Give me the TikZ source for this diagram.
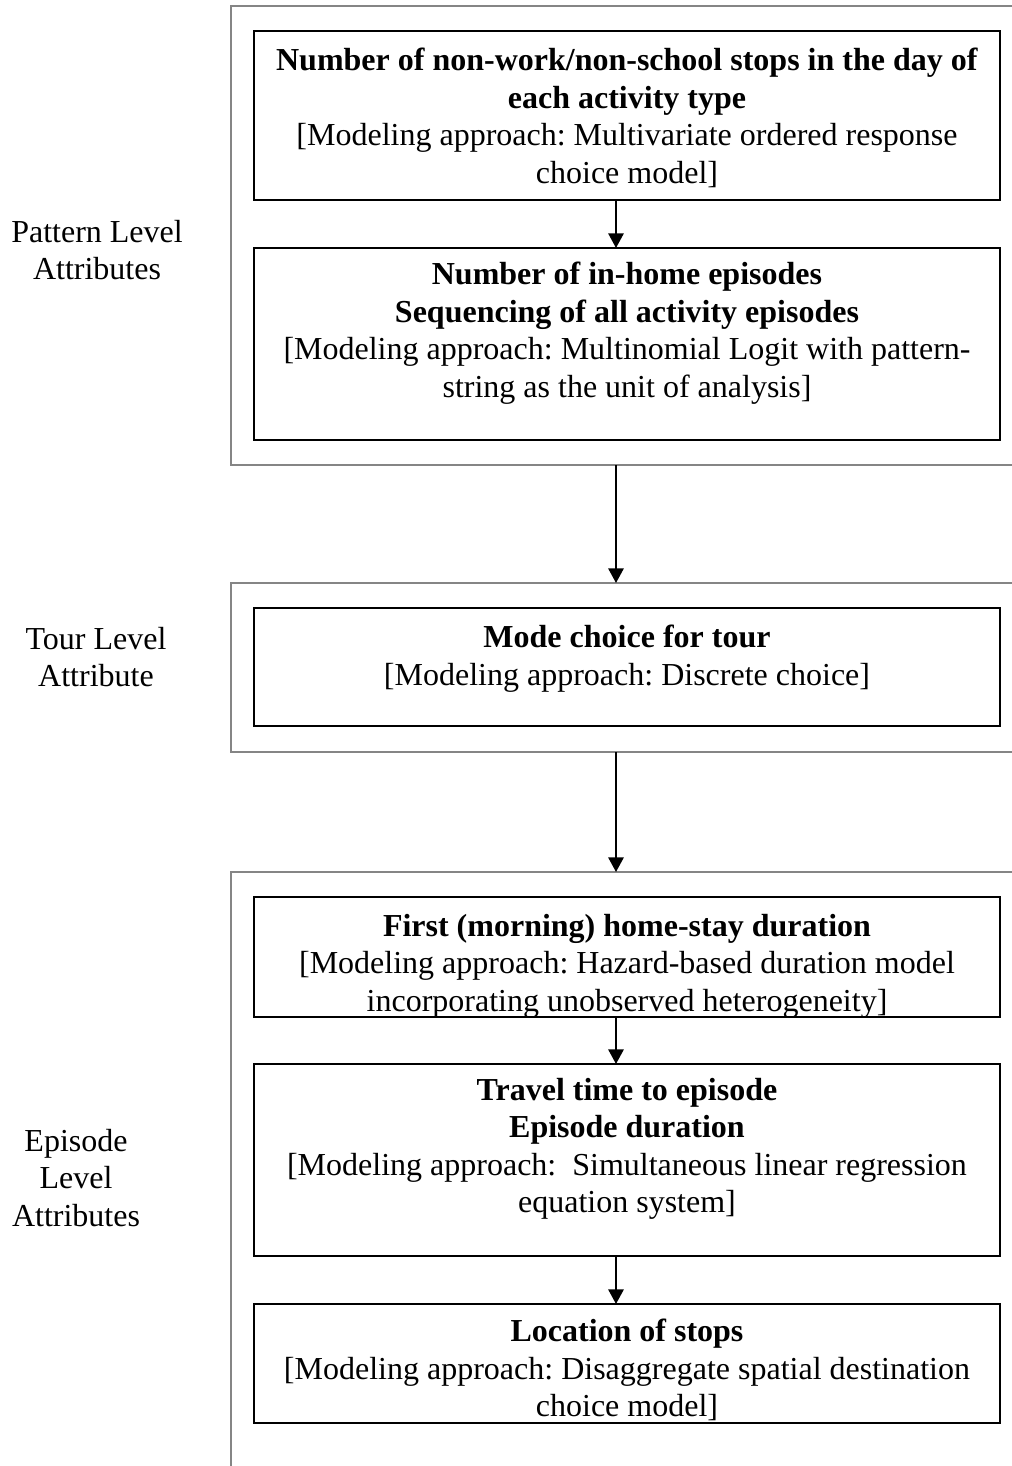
\documentclass[tikz,border=0pt]{standalone}
\usepackage{fontspec}
\setmainfont{Liberation Serif}
\usetikzlibrary{arrows.meta}
\frenchspacing
\begin{document}
\begin{tikzpicture}[x=0.75pt,y=-0.75pt,
  grp/.style={draw=black!48, line width=1.5pt, inner sep=0pt, outer sep=0pt, anchor=north west},
  box/.style={draw=black, line width=1.6pt, inner sep=0pt, outer sep=0pt, anchor=north west, minimum width=746*0.75pt},
  txt/.style={align=center, inner sep=0pt, anchor=north, font=\fontsize{24pt}{28.1pt}\selectfont},
  lbl/.style={align=center, inner sep=0pt, font=\fontsize{24pt}{28.1pt}\selectfont},
  arr/.style={line width=1.5pt, -{Triangle[width=11.5pt,length=11pt]}}]
\useasboundingbox (0,0) rectangle (1012,1466);
\clip (0,0) rectangle (1012,1466);
% group frames (open to the right / bottom)
\node[grp, minimum width=(1100-231)*0.75pt, minimum height=(465-6)*0.75pt] (g1) at (231,6) {};
\node[grp, minimum width=(1100-231)*0.75pt, minimum height=(752-583)*0.75pt] (g2) at (231,583) {};
\node[grp, minimum width=(1100-231)*0.75pt, minimum height=(1600-872)*0.75pt] (g3) at (231,872) {};
% boxes
\node[box, minimum height=169*0.75pt] (b1) at (254,31) {};
\node[box, minimum height=192*0.75pt] (b2) at (254,248) {};
\node[box, minimum height=118*0.75pt] (b3) at (254,608) {};
\node[box, minimum height=120*0.75pt] (b4) at (254,897) {};
\node[box, minimum height=192*0.75pt] (b5) at (254,1064) {};
\node[box, minimum height=119*0.75pt] (b6) at (254,1304) {};
% texts
\node[txt] (t1) at (627,48) {\textbf{Number of non-work/non-school stops in the day of}\\\textbf{each activity type}\\{[}Modeling approach: Multivariate ordered response\\choice model]};
\node[txt] (t2) at (627,262) {\textbf{Number of in-home episodes}\\\textbf{Sequencing of all activity episodes}\\{[}Modeling approach: Multinomial Logit with pattern-\\string as the unit of analysis]};
\node[txt] (t3) at (627,625) {\textbf{Mode choice for tour}\\{[}Modeling approach: Discrete choice]};
\node[txt] (t4) at (627,914) {\textbf{First (morning) home-stay duration}\\{[}Modeling approach: Hazard-based duration model\\incorporating unobserved heterogeneity]};
\node[txt] (t5) at (627,1078) {\textbf{Travel time to episode}\\\textbf{Episode duration}\\{[}Modeling approach: \ Simultaneous linear regression\\equation system]};
\node[txt] (t6) at (627,1319) {\textbf{Location of stops}\\{[}Modeling approach: Disaggregate spatial destination\\choice model]};
% side labels
\node[lbl] (l1) at (97,250) {Pattern Level\\Attributes};
\node[lbl] (l2) at (96,657) {Tour Level\\Attribute};
\node[lbl] (l3) at (76,1178) {Episode\\Level\\Attributes};
% arrows
\coordinate (ax) at (616,0);
\draw[arr] (b1.south -| ax) -- (b2.north -| ax);
\draw[arr] (g1.south -| ax) -- (g2.north -| ax);
\draw[arr] (g2.south -| ax) -- (g3.north -| ax);
\draw[arr] (b4.south -| ax) -- (b5.north -| ax);
\draw[arr] (b5.south -| ax) -- (b6.north -| ax);
\end{tikzpicture}
\end{document}
